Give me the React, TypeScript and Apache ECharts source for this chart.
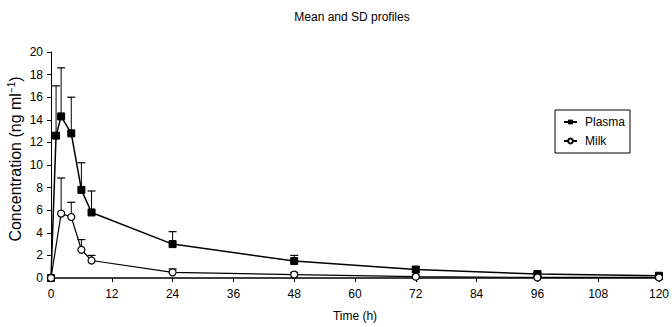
import React, { useEffect, useRef } from "react";
import * as echarts from "echarts";

const plasmaTimes = [0, 1, 2, 4, 6, 8, 24, 48, 72, 96, 120];
const plasmaMean = [0, 12.6, 14.3, 12.8, 7.8, 5.8, 3.0, 1.5, 0.75, 0.35, 0.2];
const plasmaUpper = [0, 17.0, 18.6, 16.0, 10.2, 7.7, 4.1, 2.0, 1.0, 0.5, 0.3];

const milkTimes = [0, 2, 4, 6, 8, 24, 48, 72, 96, 120];
const milkMean = [0, 5.7, 5.4, 2.5, 1.55, 0.5, 0.3, 0.12, 0.05, 0.05];
const milkUpper = [0, 8.85, 6.7, 3.4, 2.0, 0.8, 0.5, 0.25, 0.12, 0.1];

const xTicks = [0, 12, 24, 36, 48, 60, 72, 84, 96, 108, 120];
const yTicks = [0, 2, 4, 6, 8, 10, 12, 14, 16, 18, 20];

const FONT = "Liberation Sans, Arial, sans-serif";

function errorSeries(name: string, times: number[], mean: number[], upper: number[]) {
  const data = times.map((t, i) => [t, mean[i], upper[i]]);
  return {
    type: "custom",
    name: name + "-sd",
    silent: true,
    z: 1,
    data,
    renderItem: (params: any, api: any) => {
      const x = api.value(0);
      const m = api.value(1);
      const u = api.value(2);
      if (u <= m) return null;
      const p0 = api.coord([x, m]);
      const p1 = api.coord([x, u]);
      const cap = 4;
      return {
        type: "group",
        children: [
          {
            type: "line",
            shape: { x1: p0[0], y1: p0[1], x2: p1[0], y2: p1[1] },
            style: { stroke: "#000", lineWidth: 1 },
          },
          {
            type: "line",
            shape: { x1: p1[0] - cap, y1: p1[1], x2: p1[0] + cap, y2: p1[1] },
            style: { stroke: "#000", lineWidth: 1.2 },
          },
        ],
      };
    },
  };
}

export default function App() {
  const ref = useRef<HTMLDivElement>(null);
  useEffect(() => {
    document.body.style.margin = "0";
    const chart = echarts.init(ref.current!, null, { renderer: "svg" });
    chart.setOption({
      animation: false,
      backgroundColor: "#fff",
      title: {
        text: "Mean and SD profiles",
        left: 347,
        top: 6,
        textAlign: "center",
        textStyle: { fontFamily: FONT, fontSize: 12, fontWeight: "normal", color: "#000" },
      },
      legend: {
        orient: "vertical",
        left: 555,
        top: 110,
        data: ["Plasma", "Milk"],
        borderColor: "#000",
        borderWidth: 1,
        padding: [6, 5, 6, 8],
        itemGap: 7,
        itemWidth: 13,
        itemHeight: 6,
        textStyle: { fontFamily: FONT, fontSize: 12, color: "#000", padding: [0, 0, 0, 3] },
      },
      graphic: [
        {
          type: "text",
          x: 15,
          y: 159,
          rotation: Math.PI / 2,
          style: {
            text: "{a|Concentration (ng ml}{s|−1}{a|)}",
            align: "center",
            verticalAlign: "middle",
            rich: {
              a: { fontFamily: FONT, fontSize: 16, fill: "#000", color: "#000" },
              s: { fontFamily: FONT, fontSize: 10, fill: "#000", color: "#000", padding: [0, 0, 8, 0] },
            },
          },
        },
      ],
      grid: { left: 51, right: 10, top: 52, bottom: 46 },
      xAxis: {
        type: "value",
        min: 0,
        max: 120,
        interval: 12,
        name: "Time (h)",
        nameLocation: "middle",
        nameGap: 32,
        nameTextStyle: { fontFamily: FONT, fontSize: 12, color: "#000" },
        axisLine: { lineStyle: { color: "#000", width: 1.5 } },
        axisTick: { show: true, length: 4, lineStyle: { color: "#000" } },
        axisLabel: {
          fontFamily: FONT,
          fontSize: 12,
          color: "#000",
          margin: 10,
          formatter: (v: number) => (xTicks.includes(v) ? String(v) : ""),
        },
        splitLine: { show: false },
      },
      yAxis: {
        type: "value",
        min: 0,
        max: 20,
        interval: 2,
        axisLine: { show: true, lineStyle: { color: "#000", width: 1 } },
        axisTick: { show: true, length: 4, lineStyle: { color: "#000" } },
        axisLabel: {
          fontFamily: FONT,
          fontSize: 12,
          color: "#000",
          margin: 8,
          formatter: (v: number) => (yTicks.includes(v) ? String(v) : ""),
        },
        splitLine: { show: false },
      },
      series: [
        errorSeries("Plasma", plasmaTimes, plasmaMean, plasmaUpper),
        errorSeries("Milk", milkTimes, milkMean, milkUpper),
        {
          name: "Plasma",
          type: "line",
          z: 3,
          data: plasmaTimes.map((t, i) => [t, plasmaMean[i]]),
          symbol: "rect",
          symbolSize: 7,
          itemStyle: { color: "#000", borderColor: "#000" },
          lineStyle: { color: "#000", width: 1.5 },
        },
        {
          name: "Milk",
          type: "line",
          z: 4,
          data: milkTimes.map((t, i) => [t, milkMean[i]]),
          symbol: "circle",
          symbolSize: 7,
          itemStyle: { color: "#fff", borderColor: "#000", borderWidth: 1.2 },
          lineStyle: { color: "#000", width: 1.2 },
        },
      ],
    });
    return () => chart.dispose();
  }, []);
  return (
    <div
      ref={ref}
      style={{ position: "absolute", left: 0, top: 0, width: 672, height: 327 }}
    />
  );
}
